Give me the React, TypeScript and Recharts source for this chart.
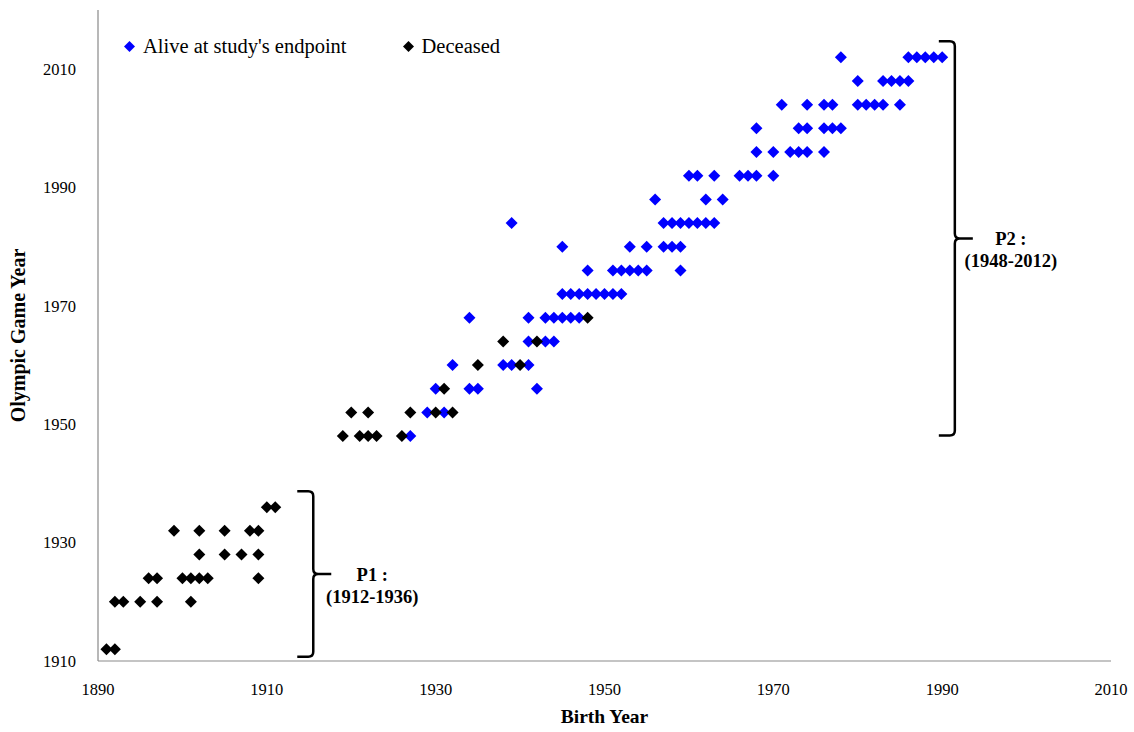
import React from 'react';
import { ScatterChart, Scatter, XAxis, YAxis, Legend, ReferenceLine } from 'recharts';

// Olympic Games (y) and the birth years (x) of the athletes shown on each row
const olympicYears = [1912, 1920, 1924, 1928, 1932, 1936, 1948, 1952, 1956, 1960, 1964, 1968, 1972, 1976, 1980, 1984, 1988, 1992, 1996, 2000, 2004, 2008, 2012];

const aliveBirthYears: number[][] = [
  [],
  [],
  [],
  [],
  [],
  [],
  [1927],
  [1929, 1931],
  [1930, 1934, 1935, 1942],
  [1932, 1938, 1939, 1941],
  [1941, 1943, 1944],
  [1934, 1941, 1943, 1944, 1945, 1946, 1947],
  [1945, 1946, 1947, 1948, 1949, 1950, 1951, 1952],
  [1948, 1951, 1952, 1953, 1954, 1955, 1959],
  [1945, 1953, 1955, 1957, 1958, 1959],
  [1939, 1957, 1958, 1959, 1960, 1961, 1962, 1963],
  [1956, 1962, 1964],
  [1960, 1961, 1963, 1966, 1967, 1968, 1970],
  [1968, 1970, 1972, 1973, 1974, 1976],
  [1968, 1973, 1974, 1976, 1977, 1978],
  [1971, 1974, 1976, 1977, 1980, 1981, 1982, 1983, 1985],
  [1980, 1983, 1984, 1985, 1986],
  [1978, 1986, 1987, 1988, 1989, 1990],
];

const deceasedBirthYears: number[][] = [
  [1891, 1892],
  [1892, 1893, 1895, 1897, 1901],
  [1896, 1897, 1900, 1901, 1902, 1903, 1909],
  [1902, 1905, 1907, 1909],
  [1899, 1902, 1905, 1908, 1909],
  [1910, 1911],
  [1919, 1921, 1922, 1923, 1926],
  [1920, 1922, 1927, 1930, 1932],
  [1931],
  [1935, 1940],
  [1938, 1942],
  [1948],
  [],
  [],
  [],
  [],
  [],
  [],
  [],
  [],
  [],
  [],
  [],
];

const xTicks = [1890, 1910, 1930, 1950, 1970, 1990, 2010];
const yTicks = [1910, 1930, 1950, 1970, 1990, 2010];

const seriesNames = ["Alive at study's endpoint", 'Deceased'];
const seriesColors = ['#0000ff', '#000000'];

// Period brackets (annotation placement in data units)
const periodLabels = ['P1 :', 'P2 :'];
const periodRanges = ['(1912-1936)', '(1948-2012)'];
const bracketX = [1915.5, 1991.5];
const bracketTop = [1938.7, 2014.7];
const bracketBottom = [1910.7, 1948.1];
const bracketTextDx = [59, 56];

const FONT = "'Times New Roman', 'Liberation Serif', serif";

const toPoints = (rows: number[][]) =>
  rows.flatMap((births, i) => births.map((b) => ({ x: b, y: olympicYears[i] })));

const aliveData = toPoints(aliveBirthYears);
const deceasedData = toPoints(deceasedBirthYears);

const Diamond = (props: any) => {
  const { cx, cy, fill } = props;
  if (cx == null || cy == null) return null;
  const r = 6;
  return <path d={`M${cx},${cy - r}L${cx + r},${cy}L${cx},${cy + r}L${cx - r},${cy}Z`} fill={fill} stroke="none" />;
};

const makeBracket = (label: string, range: string, textDx: number) => (p: any) => {
  const X = p.x1;
  const top = Math.min(p.y1, p.y2);
  const bot = Math.max(p.y1, p.y2);
  const mid = (top + bot) / 2;
  const hook = 16;
  const r = 5;
  const tip = 18;
  const d = [
    `M${X - hook},${top}`,
    `L${X - r},${top}`,
    `Q${X},${top} ${X},${top + r}`,
    `L${X},${mid - r}`,
    `Q${X},${mid} ${X + r},${mid}`,
    `L${X + tip},${mid}`,
    `M${X + r},${mid}`,
    `Q${X},${mid} ${X},${mid + r}`,
    `L${X},${bot - r}`,
    `Q${X},${bot} ${X - r},${bot}`,
    `L${X - hook},${bot}`,
  ].join(' ');
  return (
    <g>
      <path d={d} fill="none" stroke="#000" strokeWidth={2.5} />
      <text x={X + textDx} y={mid + 7} textAnchor="middle" fontFamily={FONT} fontWeight="bold" fontSize={18.5} fill="#000">
        {label}
      </text>
      <text x={X + textDx} y={mid + 29} textAnchor="middle" fontFamily={FONT} fontWeight="bold" fontSize={18.5} fill="#000">
        {range}
      </text>
    </g>
  );
};

const renderLegend = (props: any) => {
  const payload = props.payload || [];
  return (
    <div style={{ display: 'flex', alignItems: 'center', fontFamily: FONT, fontSize: 20.5, color: '#000', lineHeight: '24px' }}>
      {payload.map((entry: any, i: number) => (
        <div key={i} style={{ display: 'flex', alignItems: 'center', marginRight: i === 0 ? 56 : 0 }}>
          <svg width={11} height={11} style={{ marginRight: 8 }}>
            <path d="M5.5,0L11,5.5L5.5,11L0,5.5Z" fill={entry.color} />
          </svg>
          <span>{entry.value}</span>
        </div>
      ))}
    </div>
  );
};

export default function App() {
  return (
    <div style={{ position: 'absolute', left: 0, top: 0, background: '#fff' }}>
      <ScatterChart
        width={1134}
        height={732}
        margin={{ top: 10, right: 23, bottom: 0, left: 0 }}
        style={{ fontFamily: FONT }}
      >
        <XAxis
          type="number"
          dataKey="x"
          domain={[1890, 2010]}
          ticks={xTicks}
          interval={0}
          height={71}
          tickLine={false}
          tickSize={0}
          tickMargin={22}
          axisLine={{ stroke: '#898989', strokeWidth: 1.2 }}
          tick={{ fill: '#000', fontSize: 16.5, fontFamily: FONT }}
          label={{ value: 'Birth Year', position: 'insideBottom', offset: 9, style: { fontWeight: 'bold', fontSize: 19.5, fill: '#000', fontFamily: FONT } }}
        />
        <YAxis
          type="number"
          dataKey="y"
          domain={[1910, 2020]}
          ticks={yTicks}
          interval={0}
          width={98}
          tickLine={false}
          tickSize={0}
          tickMargin={22}
          axisLine={{ stroke: '#898989', strokeWidth: 1.2 }}
          tick={{ fill: '#000', fontSize: 16.5, fontFamily: FONT }}
          label={{ value: 'Olympic Game Year', angle: -90, position: 'insideLeft', offset: 18, style: { textAnchor: 'middle', fontWeight: 'bold', fontSize: 20, fill: '#000', fontFamily: FONT } }}
        />
        <Legend
          layout="horizontal"
          verticalAlign="middle"
          align="center"
          content={renderLegend}
          wrapperStyle={{ top: 34, left: 124, width: 520, height: 24 }}
        />
        <Scatter name={seriesNames[0]} data={aliveData} fill={seriesColors[0]} shape={Diamond} isAnimationActive={false} />
        <Scatter name={seriesNames[1]} data={deceasedData} fill={seriesColors[1]} shape={Diamond} isAnimationActive={false} />
        {bracketX.map((bx, i) => (
          <ReferenceLine
            key={i}
            ifOverflow="visible"
            segment={[
              { x: bx, y: bracketTop[i] },
              { x: bx, y: bracketBottom[i] },
            ]}
            shape={makeBracket(periodLabels[i], periodRanges[i], bracketTextDx[i])}
          />
        ))}
      </ScatterChart>
    </div>
  );
}
